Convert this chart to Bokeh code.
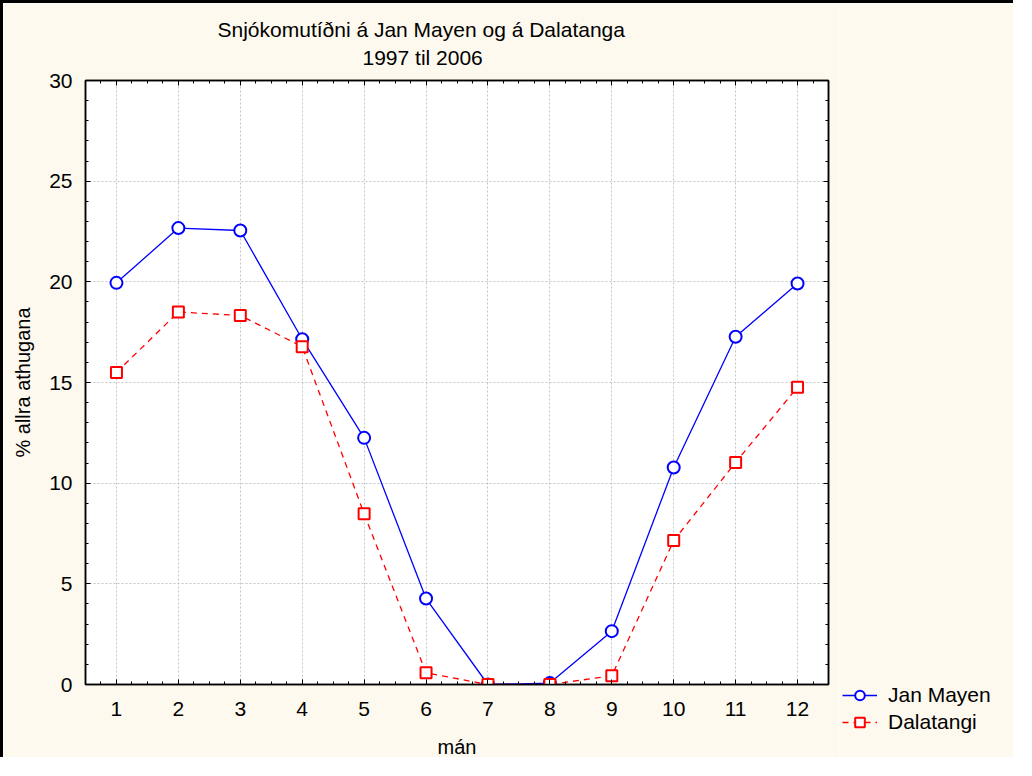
from bokeh.plotting import figure
from bokeh.layouts import row
from bokeh.models import (Range1d, LinearAxis, FixedTicker, Legend, LegendItem, Title)
from bokeh.embed import file_html
from bokeh.resources import INLINE

months = [1, 2, 3, 4, 5, 6, 7, 8, 9, 10, 11, 12]
jan_mayen = [19.95, 22.67, 22.55, 17.15, 12.25, 4.27, 0.0, 0.07, 2.65, 10.78, 17.27, 19.92]
dalatangi = [15.5, 18.5, 18.33, 16.78, 8.48, 0.58, 0.0, 0.0, 0.43, 7.15, 11.03, 14.77]
x_ticks = months
y_ticks = [0, 5, 10, 15, 20, 25, 30]
title_1 = "Snjókomutíðni á Jan Mayen og á Dalatanga"
title_2 = "1997 til 2006"
x_label = "mán"
y_label = "% allra athugana"
series_names = ["Jan Mayen", "Dalatangi"]

FONT = "Liberation Sans"
CREAM = "#fef9ee"
BLUE = "#0000ff"
RED = "#ff0000"

p = figure(width=839, height=757, output_backend="svg", toolbar_location=None,
           x_range=Range1d(0.5, 12.5), y_range=Range1d(0, 30),
           min_border_left=82, min_border_right=14, min_border_top=77, min_border_bottom=76,
           background_fill_color="white", border_fill_color=CREAM,
           x_axis_location=None, y_axis_location=None)
p.styles = {"border-left": "3px solid black", "border-top": "3px solid black"}
p.outline_line_color = "black"
p.outline_line_width = 1.5
p.frame_align = False

def mk_axis(ticks, minor, labels=True):
    ax = LinearAxis(ticker=FixedTicker(ticks=ticks, minor_ticks=minor))
    ax.major_tick_in = 5
    ax.major_tick_out = 0
    ax.minor_tick_in = 3
    ax.minor_tick_out = 0
    ax.axis_line_color = "black"
    ax.axis_line_width = 1.5
    ax.major_tick_line_color = "black"
    ax.minor_tick_line_color = "black"
    ax.major_label_text_font = FONT
    ax.major_label_text_font_size = "21px"
    ax.major_label_text_color = "black"
    ax.axis_label_text_font = FONT
    ax.axis_label_text_font_size = "20px"
    ax.axis_label_text_font_style = "normal"
    ax.axis_label_text_color = "black"
    if not labels:
        ax.major_label_text_alpha = 0
        ax.major_label_text_font_size = "1px"
        ax.major_label_standoff = 0
    return ax

xminor = [0.5 + 0.25 * i for i in range(49)]
yminor = list(range(0, 31))

bx = mk_axis(x_ticks, xminor)
bx.major_label_standoff = 17
bx.axis_label = x_label
bx.axis_label_standoff = 17
ly = mk_axis(y_ticks, yminor)
ly.major_label_standoff = 13
ly.axis_label = y_label
ly.axis_label_standoff = 12
tx = mk_axis(x_ticks, xminor, labels=False)
ry = mk_axis(y_ticks, yminor, labels=False)
p.add_layout(bx, "below")
p.add_layout(ly, "left")
p.add_layout(tx, "above")
p.add_layout(ry, "right")

p.xgrid.ticker = FixedTicker(ticks=x_ticks)
p.ygrid.ticker = FixedTicker(ticks=y_ticks)
for g in (p.xgrid, p.ygrid):
    g.grid_line_color = "#c4c4c4"
    g.grid_line_dash = "2 2"
    g.grid_line_width = 1

def draw(fig):
    l1 = fig.line(months, jan_mayen, line_color=BLUE, line_width=1.3)
    s1 = fig.scatter(months, jan_mayen, marker="circle", size=12, line_color=BLUE,
                     line_width=2, fill_color="white")
    l2 = fig.line(months, dalatangi, line_color=RED, line_width=1.3, line_dash="6 5")
    s2 = fig.scatter(months, dalatangi, marker="square", size=11, line_color=RED,
                     line_width=2, fill_color="white")
    return (l1, s1), (l2, s2)

draw(p)

t2 = Title(text=title_2, align="left", offset=277, standoff=23,
           text_font=FONT, text_font_size="21px", text_font_style="normal", text_color="black")
t1 = Title(text=title_1, align="left", offset=132, standoff=-17,
           text_font=FONT, text_font_size="21px", text_font_style="normal", text_color="black")
p.add_layout(t2, "above")
p.add_layout(t1, "above")

# legend panel (same series, drawn out of view; only the legend shows)
p2 = figure(width=174, height=757, output_backend="svg", toolbar_location=None,
            x_range=Range1d(-20, -19), y_range=Range1d(-20, -19),
            min_border=0, min_border_left=0, min_border_right=0,
            min_border_top=0, min_border_bottom=0,
            background_fill_color=CREAM, border_fill_color=CREAM,
            x_axis_location=None, y_axis_location=None)
p2.styles = {"border-top": "3px solid black"}
p2.outline_line_color = None
p2.grid.visible = False
p2.frame_align = False
r_jm, r_dt = draw(p2)

legend = Legend(items=[LegendItem(label=series_names[0], renderers=list(r_jm)),
                       LegendItem(label=series_names[1], renderers=list(r_dt))],
                location=(3, 26), padding=0, margin=0, spacing=3,
                glyph_width=35, glyph_height=24, label_height=24, label_standoff=11,
                label_text_font=FONT, label_text_font_size="21px",
                label_text_color="black",
                border_line_color=None, background_fill_alpha=0)
p2.add_layout(legend, "center")

layout = row(p, p2, spacing=0)
open("out.html", "w").write(file_html(layout, INLINE))
